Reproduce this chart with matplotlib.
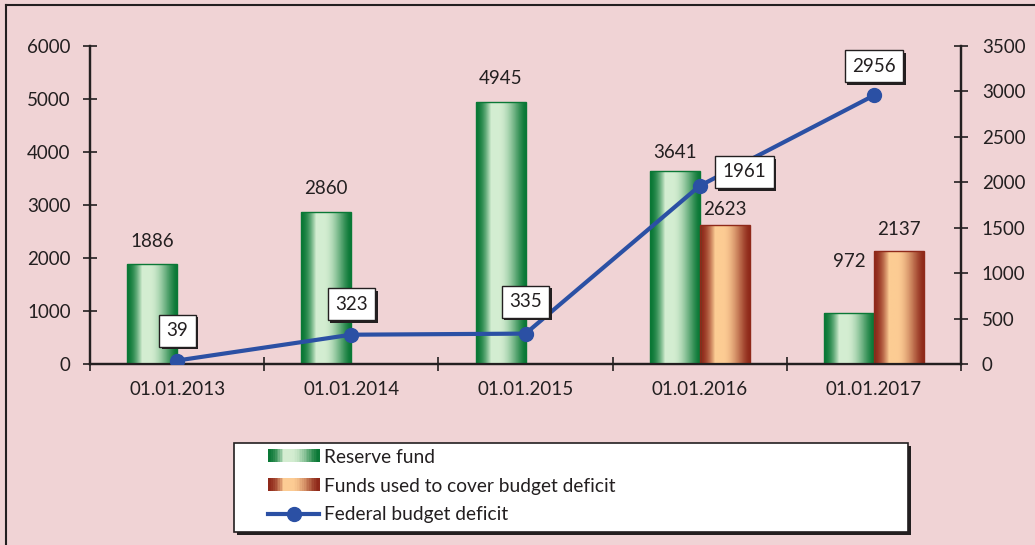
import numpy as np
import matplotlib
matplotlib.use("Agg")
import matplotlib.pyplot as plt
import matplotlib.patheffects as pe
from matplotlib.patches import Rectangle
from matplotlib.lines import Line2D
from matplotlib.legend_handler import HandlerBase

# data
dates = ["01.01.2013", "01.01.2014", "01.01.2015", "01.01.2016", "01.01.2017"]
reserve_fund = [1886, 2860, 4945, 3641, 972]
funds_used = [np.nan, np.nan, np.nan, 2623, 2137]
deficit = [39, 323, 335, 1961, 2956]

plt.rcParams['font.family'] = ['Lato', 'DejaVu Sans']
plt.rcParams['font.size'] = 13.5
dark = '#231f20'
bg = '#f0d3d5'
line_blue = '#2b50a4'

green_dark = np.array([0.04, 0.47, 0.21])
green_light = np.array([0.83, 0.93, 0.82])
orange_dark = np.array([0.56, 0.16, 0.10])
orange_light = np.array([0.99, 0.80, 0.58])


def gradient(c_dark, c_light, n=64):
    # dark edges, light band just left of centre
    t = np.linspace(0, 1, n)
    f = np.ones_like(t)
    left = t < 0.3
    right = t > 0.45
    f[left] = (t[left] / 0.3) ** 1.8
    f[right] = np.sin((1 - t[right]) / 0.55 * np.pi / 2) ** 1.4
    cols = c_dark[None, :] + (c_light - c_dark)[None, :] * f[:, None]
    return cols


class GradientHandler(HandlerBase):
    def __init__(self, cd, cl):
        super().__init__()
        self.cols = gradient(cd, cl, 30)

    def create_artists(self, legend, orig, xdescent, ydescent, width, height, fontsize, trans):
        arts = []
        n = len(self.cols)
        for k, c in enumerate(self.cols):
            arts.append(Rectangle((-xdescent + width * k / n, -ydescent), width / n + 0.3, height,
                                  facecolor=c, edgecolor='none', transform=trans))
        return arts


fig = plt.figure(figsize=(10.35, 5.45), dpi=100, facecolor=bg)
ax = fig.add_axes([0.087, 0.332, 0.8415, 0.5836])
ax.set_facecolor('none')
ax2 = ax.twinx()

x = np.arange(len(dates))
w = 0.287
bars_g = ax.bar(x - w / 2, reserve_fund, w, color=green_dark, edgecolor='none', zorder=2)
bars_o = ax.bar(x + w / 2, funds_used, w, color=orange_dark, edgecolor='none', zorder=2)

for bars, cd, cl in [(bars_g, green_dark, green_light), (bars_o, orange_dark, orange_light)]:
    img = gradient(cd, cl)[None, :, :]
    for b in bars:
        h = b.get_height()
        if not np.isfinite(h) or h <= 0:
            continue
        im = ax.imshow(img, extent=(b.get_x(), b.get_x() + b.get_width(), 0, h),
                       aspect='auto', interpolation='bilinear', zorder=3)
        im.set_clip_path(b)
        # thin outline on top of the gradient
        ax.add_patch(Rectangle((b.get_x(), 0), b.get_width(), h, fill=False,
                               edgecolor=cd, lw=1, zorder=3.5))

ax.set_xlim(-0.5, len(dates) - 0.5)
ax.set_ylim(0, 6000)
ax2.set_ylim(0, 3500)

# bar value labels (offsets in points above the bar top)
green_off = [16.5, 17, 17, 13, 37]
orange_off = [0, 0, 0, 11, 15]
for i, v in enumerate(reserve_fund):
    ax.annotate(str(v), (x[i] - w / 2, v), xytext=(0, green_off[i]), textcoords='offset points',
                ha='center', va='center', color=dark, zorder=5)
for i, v in enumerate(funds_used):
    if np.isfinite(v):
        ax.annotate(str(int(v)), (x[i] + w / 2, v), xytext=(0, orange_off[i]), textcoords='offset points',
                    ha='center', va='center', color=dark, zorder=5)

ax2.plot(x, deficit, color=line_blue, lw=3, marker='o', ms=10, zorder=4)
box_off = [(0, 21.5), (0, 22), (0, 23), (32, 10), (0, 21)]
for i, v in enumerate(deficit):
    t = ax2.annotate(str(v), (x[i], v), xytext=box_off[i], textcoords='offset points',
                     ha='center', va='center', color=dark,
                     bbox=dict(boxstyle='square,pad=0.4', fc='white', ec=dark, lw=1), zorder=6)
    t.get_bbox_patch().set_path_effects([pe.withSimplePatchShadow(offset=(2, -2), shadow_rgbFace=dark, alpha=1)])

# axes styling
for a in (ax, ax2):
    a.spines['top'].set_visible(False)
    for s in ('left', 'right', 'bottom'):
        a.spines[s].set_color(dark)
        a.spines[s].set_linewidth(1.6)
ax.set_yticks(np.arange(0, 6001, 1000))
ax2.set_yticks(np.arange(0, 3501, 500))
ax.tick_params(axis='y', direction='inout', length=10, width=1.2, color=dark, labelcolor=dark, pad=9)
ax2.tick_params(axis='y', direction='inout', length=10, width=1.2, color=dark, labelcolor=dark, pad=10)
ax.set_xticks(x)
ax.set_xticklabels(dates)
ax.set_xticks(np.arange(-0.5, len(dates), 1), minor=True)
ax.tick_params(axis='x', which='major', length=0, pad=12, labelcolor=dark)
ax.tick_params(axis='x', which='minor', direction='inout', length=10, width=1.2, color=dark)

# legend frame drawn by hand so it can be wider than its content
frame = Rectangle((234 / 1035, 1 - 532 / 545), 674 / 1035, 89 / 545, transform=fig.transFigure,
                  facecolor='white', edgecolor=dark, lw=1.2, zorder=1)
frame.set_path_effects([pe.withSimplePatchShadow(offset=(2.5, -2.5), shadow_rgbFace=dark, alpha=1)])
fig.add_artist(frame)

handles = [Rectangle((0, 0), 1, 1), Rectangle((0, 0), 1, 1),
           Line2D([], [], color=line_blue, lw=3, marker='o', ms=10)]
labels = ["Reserve fund", "Funds used to cover budget deficit", "Federal budget deficit"]
leg = fig.legend(handles, labels, loc='center left',
                 bbox_to_anchor=(268 / 1035, 1 - 486 / 545),
                 handler_map={handles[0]: GradientHandler(green_dark, green_light),
                              handles[1]: GradientHandler(orange_dark, orange_light)},
                 handlelength=2.67, handleheight=0.68, handletextpad=0.27, borderpad=0,
                 labelspacing=0.62, frameon=False, borderaxespad=0, prop={'size': 13.8})
leg.set_zorder(2)
for t in leg.get_texts():
    t.set_color(dark)

# outer frame (left and top visible)
fig.add_artist(Line2D([6 / 1035, 6 / 1035], [0, 1 - 5 / 545], transform=fig.transFigure, color=dark, lw=1.5))
fig.add_artist(Line2D([6 / 1035, 1], [1 - 5 / 545, 1 - 5 / 545], transform=fig.transFigure, color=dark, lw=1.5))

fig.savefig('out.png', dpi=100, facecolor=bg)
